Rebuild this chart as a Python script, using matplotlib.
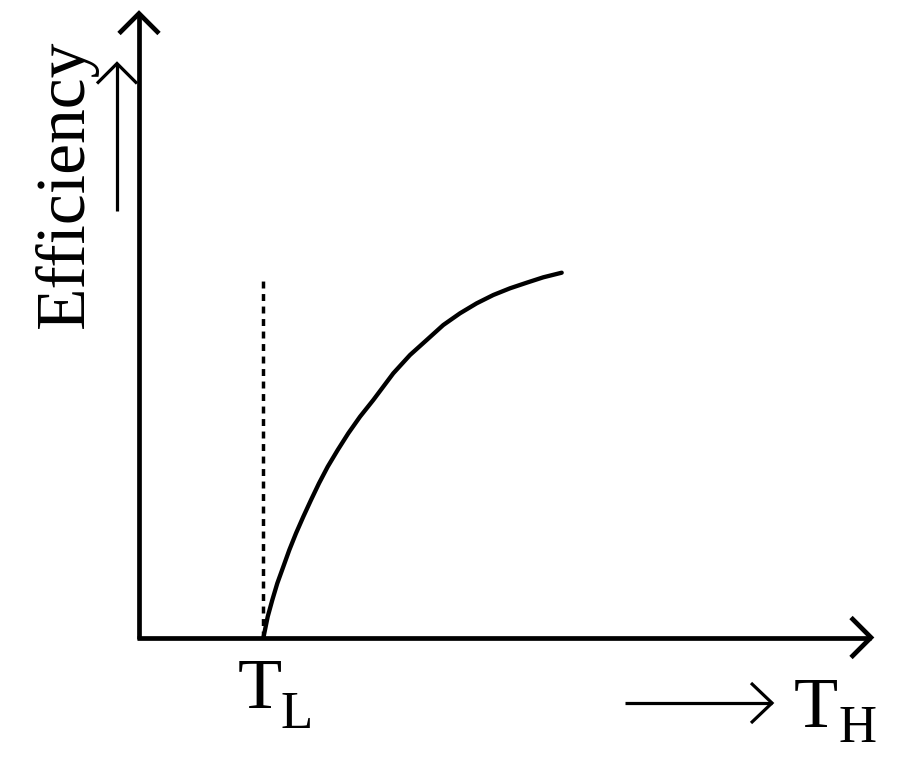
import numpy as np
import matplotlib
matplotlib.use("Agg")
import matplotlib.pyplot as plt

# curve (T relative to the origin, efficiency in the same units)
t_curve = [124.5, 125.3, 128.7, 133.3, 138.3, 144.3, 150.3, 157, 164.3, 172,
           180, 188.7, 198.7, 209.3, 221, 234.3, 254.3, 271, 287.7, 304.3,
           321, 337.7, 354.3, 371, 387.7, 404.3, 422.7]
eff_curve = [0, 4.2, 20.8, 37.5, 54.2, 70.8, 87.5, 104.2, 120.8, 137.5,
             154.2, 170.8, 187.5, 204.2, 220.8, 237.5, 264.2, 282.5, 297.5, 312.5,
             324.2, 334.2, 342.5, 349.2, 354.8, 360.2, 364.8]

# dashed marker at T_L
t_low = 124
eff_dash_top = 362

x_label = "T"
x_sub_low = "L"
x_sub_high = "H"
y_label = "Efficiency"

SERIF = "Liberation Serif"


def open_arrow(ax, x0, y0, x1, y1, lw, back=20, half=20):
    # shaft plus two-stroke arrowhead, data units are pixels on both axes
    ax.plot([x0, x1], [y0, y1], color="black", lw=lw, solid_capstyle="butt")
    d = np.array([x1 - x0, y1 - y0], dtype=float)
    d /= np.hypot(*d)
    n = np.array([-d[1], d[0]])
    tip = np.array([x1, y1], dtype=float)
    w1 = tip - back * d + half * n
    w2 = tip - back * d - half * n
    ax.plot([w1[0], tip[0], w2[0]], [w1[1], tip[1], w2[1]], color="black",
            lw=lw, solid_joinstyle="miter", solid_capstyle="butt")


fig = plt.figure(figsize=(9, 7.57), dpi=100)
ax = fig.add_axes([0, 0, 1, 1])
ax.set_xlim(-139, 761)
ax.set_ylim(-119.5, 637.5)
ax.axis("off")

# axes with arrowheads
open_arrow(ax, -2, 0, 732, 0, lw=3.4)
open_arrow(ax, 0, -1, 0, 624, lw=3.4)

# curve and dashed line
ax.plot(t_curve, eff_curve, color="black", lw=3.1, solid_capstyle="round",
        solid_joinstyle="round")
ax.plot([t_low, t_low], [0, eff_dash_top], color="black", lw=2.5,
        dashes=(2.0, 1.6), dash_capstyle="butt")

# y label with its arrow
ax.text(-73, 453.5, y_label, rotation=90, ha="center", va="center",
        fontsize=50, family=SERIF)
open_arrow(ax, -22, 427, -22, 574, lw=2.3)

# T_L below the axis
ax.text(99, -70.5, x_label, ha="left", va="baseline", fontsize=52, family=SERIF)
ax.text(142, -90.5, x_sub_low, ha="left", va="baseline", fontsize=38, family=SERIF)

# arrow towards T_H
open_arrow(ax, 486, -65.5, 633, -65.5, lw=2.3, back=21, half=20)
ax.text(655, -89.5, x_label, ha="left", va="baseline", fontsize=52, family=SERIF)
ax.text(700, -104.5, x_sub_high, ha="left", va="baseline", fontsize=38, family=SERIF)

fig.savefig("out.png", dpi=100)
